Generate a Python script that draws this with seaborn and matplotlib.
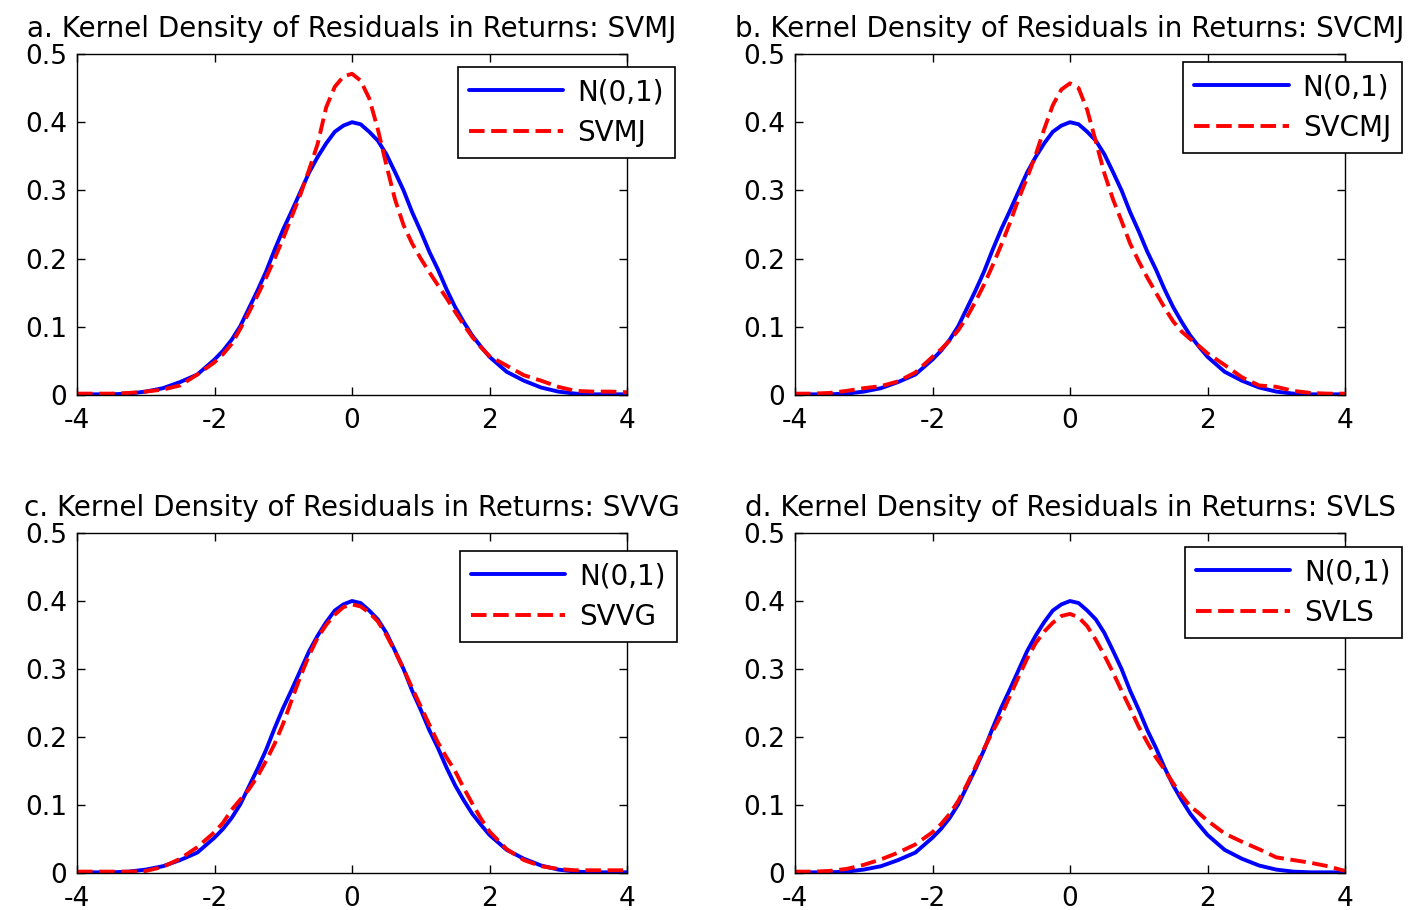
import matplotlib
matplotlib.use("Agg")
import matplotlib.pyplot as plt
import seaborn as sns

# ---------------- data ----------------
x_grid = [-4, -3.75, -3.5, -3.25, -3, -2.75, -2.5, -2.25,
          -2, -1.875, -1.75, -1.625, -1.5, -1.375, -1.25, -1.125,
          -1, -0.875, -0.75, -0.625, -0.5, -0.375, -0.25, -0.125,
          0, 0.125, 0.25, 0.375, 0.5, 0.625, 0.75, 0.875,
          1, 1.125, 1.25, 1.375, 1.5, 1.625, 1.75, 1.875, 2,
          2.25, 2.5, 2.75, 3, 3.25, 3.5, 3.75, 4]

normal_kd = [0.001, 0.001, 0.001, 0.002, 0.005, 0.010, 0.019, 0.030,
             0.052, 0.065, 0.081, 0.101, 0.127, 0.153, 0.181, 0.213,
             0.243, 0.270, 0.298, 0.326, 0.349, 0.369, 0.386, 0.395,
             0.400, 0.397, 0.386, 0.373, 0.353, 0.327, 0.300, 0.268,
             0.240, 0.210, 0.184, 0.155, 0.129, 0.107, 0.087, 0.071, 0.056,
             0.034, 0.021, 0.011, 0.005, 0.002, 0.001, 0.001, 0.001]

svmj = [0.002, 0.002, 0.002, 0.003, 0.005, 0.008, 0.014, 0.030,
        0.048, 0.060, 0.075, 0.097, 0.121, 0.146, 0.172, 0.200,
        0.230, 0.262, 0.294, 0.330, 0.368, 0.422, 0.452, 0.467,
        0.471, 0.461, 0.435, 0.390, 0.337, 0.287, 0.249, 0.222,
        0.200, 0.180, 0.161, 0.142, 0.122, 0.103, 0.085, 0.070, 0.057,
        0.043, 0.029, 0.021, 0.012, 0.006, 0.005, 0.005, 0.004]

svcmj = [0.002, 0.002, 0.003, 0.006, 0.010, 0.013, 0.020, 0.033,
         0.056, 0.067, 0.080, 0.095, 0.114, 0.137, 0.162, 0.190,
         0.220, 0.252, 0.287, 0.318, 0.352, 0.390, 0.425, 0.448,
         0.457, 0.450, 0.418, 0.372, 0.325, 0.287, 0.255, 0.222,
         0.196, 0.172, 0.150, 0.128, 0.108, 0.093, 0.082, 0.072, 0.061,
         0.044, 0.026, 0.014, 0.012, 0.006, 0.003, 0.002, 0.002]

svvg = [0.002, 0.002, 0.002, 0.002, 0.003, 0.009, 0.021, 0.038,
        0.060, 0.074, 0.093, 0.108, 0.123, 0.142, 0.165, 0.190,
        0.220, 0.255, 0.289, 0.320, 0.346, 0.365, 0.380, 0.391,
        0.395, 0.392, 0.383, 0.370, 0.350, 0.326, 0.300, 0.272,
        0.245, 0.218, 0.192, 0.170, 0.150, 0.125, 0.102, 0.080, 0.061,
        0.035, 0.019, 0.010, 0.006, 0.004, 0.004, 0.004, 0.004]

svls = [0.002, 0.002, 0.003, 0.006, 0.012, 0.020, 0.030, 0.042,
        0.060, 0.072, 0.087, 0.106, 0.130, 0.156, 0.183, 0.208,
        0.232, 0.260, 0.288, 0.315, 0.338, 0.355, 0.368, 0.378,
        0.381, 0.376, 0.363, 0.343, 0.320, 0.295, 0.268, 0.242,
        0.215, 0.192, 0.170, 0.152, 0.132, 0.114, 0.098, 0.088, 0.077,
        0.058, 0.046, 0.035, 0.023, 0.019, 0.015, 0.010, 0.003]

panel_titles = ["a. Kernel Density of Residuals in Returns: SVMJ",
                "b. Kernel Density of Residuals in Returns: SVCMJ",
                "c. Kernel Density of Residuals in Returns: SVVG",
                "d. Kernel Density of Residuals in Returns: SVLS"]
model_names = ["SVMJ", "SVCMJ", "SVVG", "SVLS"]
model_series = [svmj, svcmj, svvg, svls]
normal_label = "N(0,1)"

x_ticks = [-4, -2, 0, 2, 4]
x_tick_labels = ["-4", "-2", "0", "2", "4"]
y_ticks = [0, 0.1, 0.2, 0.3, 0.4, 0.5]
y_tick_labels = ["0", "0.1", "0.2", "0.3", "0.4", "0.5"]

# ---------------- styling ----------------
sns.set_style("ticks")
plt.rcParams["font.family"] = ["DejaVu Sans"]
plt.rcParams["text.color"] = "black"
plt.rcParams["axes.labelcolor"] = "black"

W, H = 1420, 910
fig = plt.figure(figsize=(W / 100, H / 100), dpi=100)

# axes rectangles in pixel units (left, top, right, bottom)
rects = [(77, 54, 627, 395), (795, 54, 1345, 395),
         (77, 533, 627, 873), (795, 533, 1345, 873)]
# legend boxes (right, top) in pixels
leg_anchor = [(675, 67), (1402, 62), (677, 551), (1402, 547)]

TICK_FS = 19
TITLE_FS = 20
LEG_FS = 20
for i in range(4):
    l, t, r, b = rects[i]
    ax = fig.add_axes([l / W, 1 - b / H, (r - l) / W, (b - t) / H])
    sns.lineplot(x=x_grid, y=normal_kd, ax=ax, color="#0000ff",
                 linewidth=2.8, estimator=None, label=normal_label)
    sns.lineplot(x=x_grid, y=model_series[i], ax=ax, color="#ff0000",
                 linewidth=2.8, estimator=None, label=model_names[i])
    ax.lines[1].set_linestyle((0, (4.0, 1.7)))
    ax.set_xlim(-4, 4)
    ax.set_ylim(0, 0.5)
    ax.set_xticks(x_ticks)
    ax.set_xticklabels(x_tick_labels)
    ax.set_yticks(y_ticks)
    ax.set_yticklabels(y_tick_labels)
    ax.tick_params(direction="in", length=6, width=1, top=True, right=True,
                   labelsize=TICK_FS, colors="black")
    ax.tick_params(axis="x", pad=9)
    ax.tick_params(axis="y", pad=7)
    for s in ax.spines.values():
        s.set_visible(True)
        s.set_color("black")
        s.set_linewidth(1.0)
    ax.set_xlabel("")
    ax.set_ylabel("")
    ax.set_title(panel_titles[i], fontsize=TITLE_FS, pad=12, color="black")
    lr, lt = leg_anchor[i]
    leg = ax.legend(loc="upper right", bbox_to_anchor=(lr / W, 1 - lt / H),
                    bbox_transform=fig.transFigure, fontsize=LEG_FS,
                    frameon=True, fancybox=False, shadow=False,
                    handlelength=3.4, handletextpad=0.5, labelspacing=0.45,
                    borderpad=0.4, borderaxespad=0.0)
    for txt in leg.get_texts():
        txt.set_color("black")
    leg.get_frame().set_edgecolor("black")
    leg.get_frame().set_linewidth(1.2)
    leg.get_frame().set_alpha(1.0)

fig.savefig("out.png", dpi=100, facecolor="white")
